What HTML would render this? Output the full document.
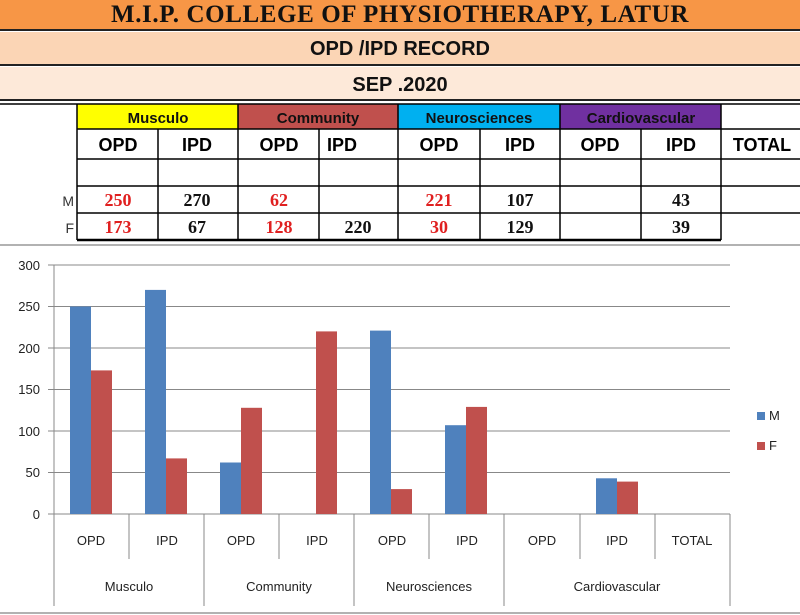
<!DOCTYPE html>
<html><head><meta charset="utf-8"><style>
body{margin:0;width:800px;height:615px;background:#fff;overflow:hidden;position:relative;font-family:"Liberation Sans",sans-serif}
.band{position:absolute;left:0;width:800px;text-align:center;font-weight:bold;border-bottom:2px solid #222}
</style></head><body>
<div class="band" style="top:0;height:29px;background:#f79646;font-family:'Liberation Serif',serif;font-size:25px;line-height:29px;color:#111;letter-spacing:0.6px">M.I.P. COLLEGE OF PHYSIOTHERAPY, LATUR</div>
<div class="band" style="top:32px;height:32px;background:#fbd5b5;font-size:20px;line-height:34px;color:#111">OPD /IPD RECORD</div>
<div class="band" style="top:67px;height:32px;background:#fde9d9;font-size:20px;line-height:36px;color:#111">SEP .2020</div>

<svg width="800" height="615" style="position:absolute;left:0;top:0">
<g>
<rect x="77" y="104" width="161" height="25" fill="#ffff00"/>
<rect x="238" y="104" width="160" height="25" fill="#c0504d"/>
<rect x="398" y="104" width="162" height="25" fill="#00b0f0"/>
<rect x="560" y="104" width="161" height="25" fill="#7030a0"/>
<g stroke="#000" stroke-width="1.5">
<line x1="0" y1="104" x2="800" y2="104"/>
<line x1="77" y1="129" x2="800" y2="129"/>
<line x1="77" y1="159" x2="800" y2="159"/>
<line x1="77" y1="186" x2="800" y2="186"/>
<line x1="77" y1="213" x2="800" y2="213"/>
<line x1="77" y1="240" x2="721" y2="240" stroke-width="2.5"/>
<line x1="77" y1="104" x2="77" y2="240"/>
<line x1="238" y1="104" x2="238" y2="240"/>
<line x1="398" y1="104" x2="398" y2="240"/>
<line x1="560" y1="104" x2="560" y2="240"/>
<line x1="721" y1="104" x2="721" y2="240"/>
<line x1="158" y1="129" x2="158" y2="240"/>
<line x1="319" y1="129" x2="319" y2="240"/>
<line x1="480" y1="129" x2="480" y2="240"/>
<line x1="641" y1="129" x2="641" y2="240"/>
</g>
<g font-family="Liberation Sans" font-size="15" font-weight="bold" text-anchor="middle" fill="#111">
<text x="158" y="123">Musculo</text><text x="318" y="123">Community</text><text x="479" y="123">Neurosciences</text><text x="641" y="123">Cardiovascular</text>
</g>
<g font-family="Liberation Sans" font-size="18" font-weight="bold" text-anchor="middle" fill="#000">
<text x="118" y="151">OPD</text><text x="197" y="151">IPD</text><text x="279" y="151">OPD</text><text x="342" y="151">IPD</text>
<text x="439" y="151">OPD</text><text x="520" y="151">IPD</text><text x="600" y="151">OPD</text><text x="681" y="151">IPD</text><text x="762" y="151">TOTAL</text>
</g>
<g font-family="Liberation Sans" font-size="14" fill="#333" text-anchor="end"><text x="74" y="206">M</text><text x="74" y="233">F</text></g>
<g font-family="Liberation Serif" font-size="18" font-weight="bold" text-anchor="middle">
<g fill="#e02020"><text x="118" y="206">250</text><text x="118" y="233">173</text><text x="279" y="206">62</text><text x="279" y="233">128</text><text x="439" y="206">221</text><text x="439" y="233">30</text></g>
<g fill="#111"><text x="197" y="206">270</text><text x="197" y="233">67</text><text x="358" y="233">220</text><text x="520" y="206">107</text><text x="520" y="233">129</text><text x="681" y="206">43</text><text x="681" y="233">39</text></g>
</g>
</g>
<line x1="0" y1="245" x2="800" y2="245" stroke="#999" stroke-width="1.5"/>
<line x1="0" y1="613" x2="800" y2="613" stroke="#999" stroke-width="1.5"/>
<g stroke="#888" stroke-width="1">
<line x1="48" y1="265" x2="730" y2="265"/><line x1="48" y1="306.5" x2="730" y2="306.5"/><line x1="48" y1="348" x2="730" y2="348"/><line x1="48" y1="389.5" x2="730" y2="389.5"/><line x1="48" y1="431" x2="730" y2="431"/><line x1="48" y1="472.5" x2="730" y2="472.5"/><line x1="48" y1="514" x2="730" y2="514"/>
<line x1="54" y1="265" x2="54" y2="606"/><line x1="730" y1="514" x2="730" y2="606"/>
<line x1="129" y1="514" x2="129" y2="559"/><line x1="279" y1="514" x2="279" y2="559"/><line x1="429" y1="514" x2="429" y2="559"/><line x1="580" y1="514" x2="580" y2="559"/><line x1="655" y1="514" x2="655" y2="559"/>
<line x1="204" y1="514" x2="204" y2="606"/><line x1="354" y1="514" x2="354" y2="606"/><line x1="504" y1="514" x2="504" y2="606"/>
</g>
<g>
<rect x="70" y="306.5" width="21" height="207.5" fill="#4f81bd"/><rect x="91" y="370.4" width="21" height="143.6" fill="#c0504d"/>
<rect x="145" y="289.9" width="21" height="224.1" fill="#4f81bd"/><rect x="166" y="458.4" width="21" height="55.6" fill="#c0504d"/>
<rect x="220" y="462.5" width="21" height="51.5" fill="#4f81bd"/><rect x="241" y="407.8" width="21" height="106.2" fill="#c0504d"/>
<rect x="316" y="331.4" width="21" height="182.6" fill="#c0504d"/>
<rect x="370" y="330.6" width="21" height="183.4" fill="#4f81bd"/><rect x="391" y="489.1" width="21" height="24.9" fill="#c0504d"/>
<rect x="445" y="425.2" width="21" height="88.8" fill="#4f81bd"/><rect x="466" y="406.9" width="21" height="107.1" fill="#c0504d"/>
<rect x="596" y="478.3" width="21" height="35.7" fill="#4f81bd"/><rect x="617" y="481.6" width="21" height="32.4" fill="#c0504d"/>
</g>
<g font-family="Liberation Sans" font-size="13" fill="#222" text-anchor="end">
<text x="40" y="270">300</text><text x="40" y="311">250</text><text x="40" y="353">200</text><text x="40" y="394">150</text><text x="40" y="436">100</text><text x="40" y="477">50</text><text x="40" y="519">0</text>
</g>
<g font-family="Liberation Sans" font-size="13" fill="#222" text-anchor="middle">
<text x="91" y="545">OPD</text><text x="167" y="545">IPD</text><text x="241" y="545">OPD</text><text x="317" y="545">IPD</text><text x="392" y="545">OPD</text><text x="467" y="545">IPD</text><text x="542" y="545">OPD</text><text x="617" y="545">IPD</text><text x="692" y="545">TOTAL</text>
<text x="129" y="591">Musculo</text><text x="279" y="591">Community</text><text x="429" y="591">Neurosciences</text><text x="617" y="591">Cardiovascular</text>
</g>
<rect x="757" y="412" width="8" height="8" fill="#4f81bd"/><text x="769" y="420" font-family="Liberation Sans" font-size="13" fill="#222">M</text>
<rect x="757" y="442" width="8" height="8" fill="#c0504d"/><text x="769" y="450" font-family="Liberation Sans" font-size="13" fill="#222">F</text>
</svg>
</body></html>
